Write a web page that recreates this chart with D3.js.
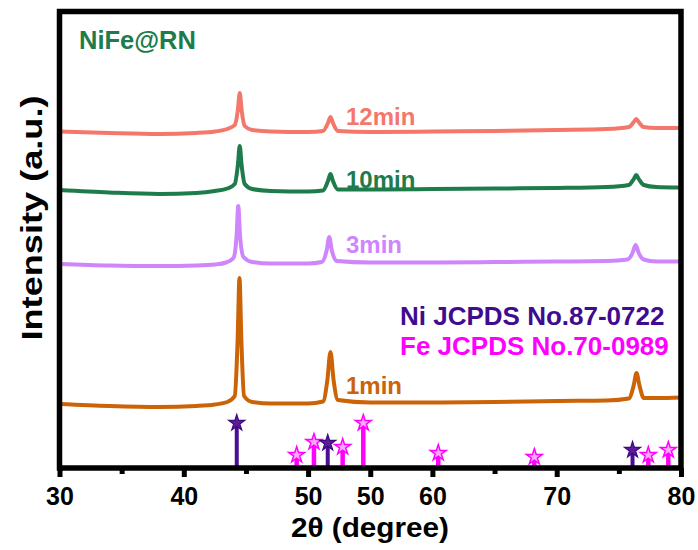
<!DOCTYPE html>
<html>
<head>
<meta charset="utf-8">
<script src="https://cdn.jsdelivr.net/npm/d3@7"></script>
<style>
  body { margin: 0; background: #fff; }
  svg text { font-family: "Liberation Sans", Arial, sans-serif; font-weight: bold; }
</style>
</head>
<body>
<svg id="chart" width="698" height="550"></svg>
<script>
// 2θ positions of the measured points (degree)
const angles = [30, 34, 38, 41, 42.5, 43.5, 44.1, 44.35, 44.5, 44.65, 44.9, 45.5, 47, 50, 51.2, 51.6, 51.8, 52.0, 52.4, 55, 60, 65, 70, 74, 75.8, 76.2, 76.4, 76.6, 77, 78, 80];
const angles3 = [30, 34, 38, 41, 42.5, 43.4, 44.0, 44.25, 44.38, 44.52, 44.8, 45.5, 47, 50, 51.1, 51.5, 51.7, 51.9, 52.3, 55, 60, 65, 70, 74, 75.7, 76.1, 76.35, 76.6, 77, 78, 80];
const angles1 = [30, 34, 38, 41, 42.5, 43.5, 44.1, 44.33, 44.48, 44.63, 44.85, 45.5, 47, 50, 51.2, 51.55, 51.8, 52.05, 52.4, 55, 60, 65, 70, 74, 75.8, 76.2, 76.42, 76.65, 77, 78, 80];

// intensities (a.u., stacked offsets included)
const int12 = [334.5, 333, 332, 333, 334.5, 337, 341, 356, 373, 356, 340, 336, 334.5, 334, 335, 343, 349, 343, 335, 334, 334.5, 335, 336, 337, 339, 344, 347, 344, 339, 338, 338];
const int10 = [276, 273.5, 272, 273, 275, 277.5, 282, 301, 320, 301, 282, 277, 275, 274.5, 275.5, 285, 292, 285, 276.5, 276.5, 277, 277.5, 278, 279, 281, 287, 291, 287, 281, 279, 278.5];
const int3 = [202, 200.5, 200, 200.5, 201.5, 203.5, 208, 231, 260, 231, 209, 204, 202.5, 202.5, 204, 216, 229, 216, 205, 203.5, 203.5, 204, 204.5, 205, 206.5, 213, 221, 213, 206.5, 204.5, 204.5];
const int1 = [62, 60, 59, 60, 61.5, 64, 70, 126, 188, 126, 70, 64, 62.5, 62.5, 64.5, 86, 114, 86, 66, 63.5, 63.5, 64, 65, 65.5, 67.5, 81, 93, 81, 68, 68, 68.5];

const seriesNames = ['12min', '10min', '3min', '1min'];
const seriesColors = ['#f4776b', '#1e7b4a', '#cf85fc', '#cc6306'];
const labelY = [341, 278, 213, 72];

// reference patterns
const niAngles = [44.26, 51.58, 76.1];
const niHeights = [43, 23, 16];
const feAngles = [49.08, 50.47, 52.78, 54.44, 60.47, 68.2, 77.37, 78.98];
const feHeights = [11, 24, 19, 43, 13, 9, 11, 16];

const xTicks = [30, 40, 50, 55, 60, 70, 80];
const xTickLabels = ['30', '40', '50', '50', '60', '70', '80'];
const xMinor = [35, 45, 65, 75];

const svg = d3.select('#chart');
const frame = { left: 59.5, right: 681, top: 11.5, bottom: 468 };

const x = d3.scaleLinear().domain([30, 80]).range([frame.left, frame.right]);
const y = d3.scaleLinear().domain([0, 455]).range([466, 11]);

const line = d3.line()
  .x(d => x(d[0]))
  .y(d => y(d[1]))
  .curve(d3.curveMonotoneX);

const data = [
  d3.zip(angles, int12),
  d3.zip(angles, int10),
  d3.zip(angles3, int3),
  d3.zip(angles1, int1)
];

// patterns
data.forEach((pts, i) => {
  svg.append('path')
    .attr('d', line(pts))
    .attr('fill', 'none')
    .attr('stroke', seriesColors[i])
    .attr('stroke-width', 4)
    .attr('stroke-linejoin', 'round');
});

// labels of the curves
seriesNames.forEach((name, i) => {
  svg.append('text')
    .attr('x', 346)
    .attr('y', y(labelY[i]))
    .attr('fill', seriesColors[i])
    .style('font-size', '24px')
    .text(name);
});

// standard sticks
const star = d3.symbol().type(d3.symbolStar).size(80);

feAngles.forEach((a, i) => {
  svg.append('line')
    .attr('x1', x(a)).attr('x2', x(a))
    .attr('y1', y(0)).attr('y2', y(feHeights[i]))
    .attr('stroke', '#ff00ff').attr('stroke-width', 4.5);
  svg.append('path')
    .attr('d', star())
    .attr('transform', `translate(${x(a)},${y(feHeights[i])})`)
    .attr('fill', '#ffa6ff').attr('stroke', '#ff00ff').attr('stroke-width', 1.5);
});

niAngles.forEach((a, i) => {
  svg.append('line')
    .attr('x1', x(a)).attr('x2', x(a))
    .attr('y1', y(0)).attr('y2', y(niHeights[i]))
    .attr('stroke', '#4a0e91').attr('stroke-width', 4);
  svg.append('path')
    .attr('d', star())
    .attr('transform', `translate(${x(a)},${y(niHeights[i])})`)
    .attr('fill', '#5d1a9a').attr('stroke', '#3d0a80').attr('stroke-width', 1.2);
});

// legend text
svg.append('text').attr('x', 400).attr('y', 325)
  .attr('fill', '#3f0b8f').style('font-size', '26px')
  .text('Ni JCPDS No.87-0722');
svg.append('text').attr('x', 400).attr('y', 355)
  .attr('fill', '#ff00ff').style('font-size', '26px')
  .text('Fe JCPDS No.70-0989');

svg.append('text').attr('x', 79).attr('y', 49)
  .attr('fill', '#1e7b4c').style('font-size', '25.5px')
  .text('NiFe@RN');

// x axis
const xAxis = d3.axisBottom(x)
  .tickValues(xTicks)
  .tickSize(9)
  .tickPadding(10)
  .tickFormat((d, i) => xTickLabels[i]);

const gx = svg.append('g').attr('transform', `translate(0,${frame.bottom})`).call(xAxis);
gx.select('.domain').remove();
gx.selectAll('.tick line').attr('stroke', '#000').attr('stroke-width', 5);
gx.selectAll('.tick text')
  .attr('fill', '#000')
  .style('font-size', '25px')
  .style('font-family', '"Liberation Sans", Arial, sans-serif')
  .style('font-weight', 'bold');

svg.append('g').attr('transform', `translate(0,${frame.bottom})`)
  .call(d3.axisBottom(x).tickValues(xMinor).tickSize(6).tickFormat(''))
  .call(g => g.select('.domain').remove())
  .selectAll('.tick line').attr('stroke', '#000').attr('stroke-width', 5);

// frame
svg.append('rect')
  .attr('x', frame.left).attr('y', frame.top)
  .attr('width', frame.right - frame.left).attr('height', frame.bottom - frame.top)
  .attr('fill', 'none').attr('stroke', '#000').attr('stroke-width', 5.5);

// axis titles
svg.append('text')
  .attr('x', 370).attr('y', 537)
  .attr('text-anchor', 'middle')
  .attr('textLength', 158)
  .attr('lengthAdjust', 'spacingAndGlyphs')
  .style('font-size', '28px')
  .text('2θ (degree)');

svg.append('text')
  .attr('transform', 'translate(42,218) rotate(-90)')
  .attr('text-anchor', 'middle')
  .attr('textLength', 245)
  .attr('lengthAdjust', 'spacingAndGlyphs')
  .style('font-size', '29px')
  .text('Intensity (a.u.)');
</script>
</body>
</html>
